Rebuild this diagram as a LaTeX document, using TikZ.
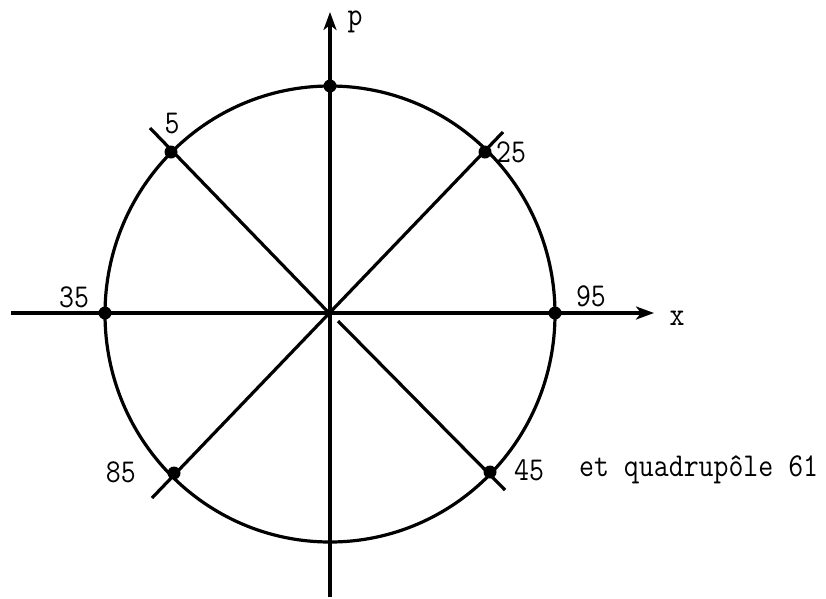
\documentclass[tikz,border=0pt]{standalone}
\usetikzlibrary{arrows.meta}
\newcommand{\tw}[1]{\scalebox{1}[1.15]{#1}}
\begin{document}
\begin{tikzpicture}[x=1pt,y=-1pt,
  ln/.style={line width=3.2pt},
  ax/.style={line width=3.2pt,-{Stealth[length=18pt,width=13pt,inset=5pt]}},
  pt/.style={circle,fill=black,inner sep=0pt,minimum size=13pt},
  lbl/.style={font=\fontsize{29}{31}\selectfont\ttfamily,inner sep=0pt}]
\useasboundingbox (0,0) rectangle (826,598);
% axes
\coordinate (O) at (330,314);
\coordinate (pb) at (330,597);
\coordinate (pt) at (330,12);
\coordinate (xl) at (11,313);
\coordinate (xr) at (654,313);
\draw[ax] (pb) -- (pt);
\draw[ax] (xl) -- (xr);
% circle
\draw[ln] (O) ellipse [x radius=225, y radius=228];
% diagonals
\coordinate (d1) at (150,128);
\coordinate (d2) at (338,321);
\coordinate (d3) at (505,490);
\coordinate (e1) at (503,132);
\coordinate (e2) at (152,498);
\draw[ln] (d1) -- (O);
\draw[ln] (d2) -- (d3);
\draw[ln] (e1) -- (e2);
% dots
\node[pt] (n5) at (171,152) {};
\node[pt] (n25) at (485,152) {};
\node[pt] (n35) at (105,313) {};
\node[pt] (n95) at (555,313) {};
\node[pt] (n85) at (174,473) {};
\node[pt] (n45) at (490,472) {};
\node[pt] (ntop) at (330,86) {};
% labels
\node[lbl] (l5) at (172,124) {\tw{5}};
\node[lbl] (l25) at (511,152) {\tw{25}};
\node[lbl] (l35) at (74,297) {\tw{35}};
\node[lbl] (l95) at (591,296) {\tw{95}};
\node[lbl,anchor=east] (l85) at (136,472) {\tw{85}};
\node[lbl] (l45) at (529,470) {\tw{45}};
\node[lbl,anchor=west] (lq) at (579,470) {\tw{et quadrup\^ole 61}};
\node[lbl] (lp) at (355,22) {\tw{p}};
\node[lbl] (lx) at (677,318) {\tw{x}};
\end{tikzpicture}
\end{document}
